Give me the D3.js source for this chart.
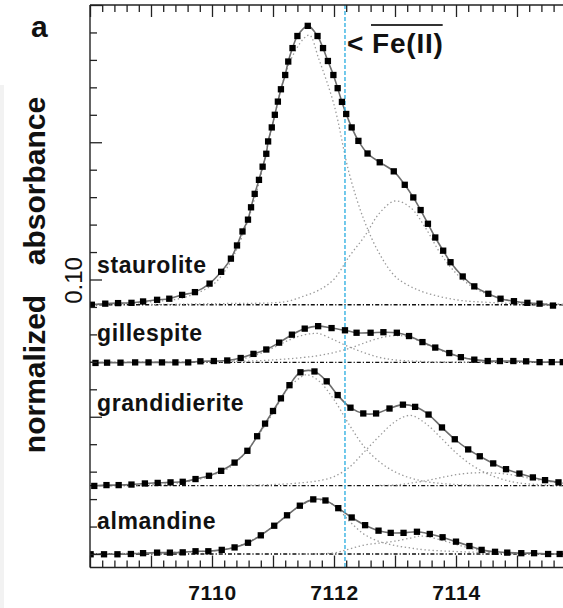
<!DOCTYPE html>
<html>
<head>
<meta charset="utf-8">
<script src="https://cdn.jsdelivr.net/npm/d3@7"></script>
<style>
  html, body { margin: 0; padding: 0; background: #fff; }
  svg { display: block; font-family: "Liberation Sans", Arial, Helvetica, sans-serif; }
</style>
</head>
<body>
<svg id="chart" width="563" height="608"></svg>
<script>
// ---------- measured spectra (energy in eV, normalized absorbance) ----------
const stauroliteE = [7108.03,7108.25,7108.46,7108.68,7108.87,7109.10,7109.30,7109.51,7109.72,7109.96,7110.15,7110.31,7110.41,7110.50,7110.59,7110.64,7110.70,7110.77,7110.83,7110.89,7110.92,7110.98,7111.03,7111.08,7111.13,7111.20,7111.25,7111.32,7111.40,7111.57,7111.73,7111.82,7111.90,7111.99,7112.06,7112.13,7112.20,7112.29,7112.40,7112.55,7112.75,7112.98,7113.16,7113.30,7113.42,7113.54,7113.66,7113.79,7113.91,7114.11,7114.30,7114.53,7114.73,7114.95,7115.17,7115.37,7115.59];
const stauroliteA = [0.0908,0.0912,0.0914,0.0915,0.0920,0.0926,0.0930,0.0944,0.0954,0.0985,0.1028,0.1076,0.1124,0.1175,0.1218,0.1263,0.1312,0.1363,0.1411,0.1458,0.1503,0.1554,0.1600,0.1648,0.1693,0.1745,0.1794,0.1843,0.1887,0.1924,0.1887,0.1843,0.1796,0.1745,0.1697,0.1647,0.1603,0.1554,0.1505,0.1459,0.1427,0.1394,0.1345,0.1299,0.1253,0.1203,0.1153,0.1105,0.1063,0.1011,0.0975,0.0948,0.0930,0.0921,0.0915,0.0912,0.0905];

const gillespiteE = [7108.09,7108.28,7108.50,7108.74,7108.96,7109.18,7109.40,7109.61,7109.81,7110.03,7110.25,7110.47,7110.68,7110.89,7111.10,7111.31,7111.52,7111.74,7111.96,7112.18,7112.37,7112.60,7112.81,7113.03,7113.23,7113.45,7113.66,7113.89,7114.08,7114.30,7114.52,7114.72,7114.94,7115.15,7115.37,7115.57,7115.75];
const gillespiteA = [0.0696,0.0697,0.0697,0.0698,0.0698,0.0698,0.0698,0.0698,0.0702,0.0703,0.0705,0.0714,0.0729,0.0745,0.0770,0.0799,0.0821,0.0830,0.0823,0.0815,0.0806,0.0806,0.0808,0.0806,0.0794,0.0772,0.0752,0.0732,0.0717,0.0708,0.0703,0.0703,0.0703,0.0702,0.0699,0.0699,0.0699];

const grandidieriteE = [7108.07,7108.27,7108.47,7108.68,7108.90,7109.11,7109.32,7109.52,7109.73,7109.95,7110.15,7110.37,7110.58,7110.74,7110.87,7111.00,7111.13,7111.27,7111.45,7111.68,7111.88,7112.06,7112.27,7112.48,7112.69,7112.91,7113.13,7113.33,7113.55,7113.77,7113.98,7114.20,7114.39,7114.61,7114.82,7115.04,7115.26,7115.46,7115.68];
const grandidieriteA = [0.0248,0.0251,0.0251,0.0253,0.0257,0.0259,0.0261,0.0263,0.0273,0.0285,0.0303,0.0333,0.0376,0.0429,0.0475,0.0521,0.0567,0.0615,0.0662,0.0665,0.0629,0.0579,0.0533,0.0512,0.0512,0.0530,0.0544,0.0536,0.0508,0.0461,0.0418,0.0381,0.0356,0.0330,0.0309,0.0293,0.0279,0.0269,0.0261];

const almandineE = [7108.01,7108.23,7108.45,7108.67,7108.87,7109.10,7109.31,7109.52,7109.73,7109.94,7110.16,7110.37,7110.59,7110.80,7111.02,7111.23,7111.44,7111.66,7111.86,7112.07,7112.29,7112.51,7112.73,7112.93,7113.14,7113.36,7113.57,7113.78,7114.00,7114.22,7114.42,7114.64,7114.84,7115.07,7115.28,7115.51,7115.70];
const almandineA = [-0.0001,-0.0001,-0.0001,0.0000,0.0003,0.0005,0.0005,0.0006,0.0010,0.0010,0.0015,0.0024,0.0041,0.0068,0.0103,0.0141,0.0176,0.0199,0.0195,0.0167,0.0133,0.0105,0.0085,0.0077,0.0077,0.0081,0.0073,0.0061,0.0045,0.0029,0.0015,0.0008,0.0005,0.0003,0.0003,0.0000,0.0000];

// ---------- vertical offsets (baseline level of each spectrum) ----------
const spectrumNames = ["staurolite", "gillespite", "grandidierite", "almandine"];
const baselineLevels = [0.0908, 0.0698, 0.0249, 0.0];

// ---------- fitted pre-edge components (height above baseline) ----------
const stauroliteMainE = [7108,7108.5,7109,7109.5,7110,7110.25,7110.5,7110.75,7111,7111.25,7111.5,7111.6,7111.75,7112,7112.25,7112.5,7112.75,7113,7113.25,7113.5,7114,7114.5,7115,7116];
const stauroliteMain  = [0.0002,0.0004,0.0011,0.0024,0.0071,0.0136,0.0253,0.0427,0.0664,0.0871,0.0969,0.0982,0.0896,0.0729,0.0478,0.0304,0.0184,0.0104,0.0067,0.0044,0.0018,0.0009,0.0004,0.0001];
const stauroliteShoulderE = [7109,7109.5,7110,7110.5,7111,7111.25,7111.5,7111.75,7112,7112.25,7112.5,7112.75,7113,7113.25,7113.5,7113.75,7114,7114.25,7114.5,7115,7115.5,7116];
const stauroliteShoulder  = [0.0001,0.0002,0.0004,0.0005,0.0007,0.0013,0.0031,0.0053,0.0093,0.0176,0.0249,0.0335,0.0378,0.0355,0.0280,0.0185,0.0115,0.0068,0.0040,0.0011,0.0003,0.0001];

const gillespiteFirstE = [7109.5,7110,7110.25,7110.5,7110.75,7111,7111.25,7111.5,7111.65,7111.75,7112,7112.25,7112.5,7112.75,7113,7113.5,7114,7115];
const gillespiteFirst  = [0.0001,0.0003,0.0005,0.0013,0.0029,0.0053,0.0080,0.0100,0.0105,0.0105,0.0082,0.0056,0.0035,0.0018,0.0009,0.0003,0.0001,0];
const gillespiteSecondE = [7110,7110.5,7111,7111.5,7111.75,7112,7112.25,7112.5,7112.75,7113,7113.25,7113.5,7113.75,7114,7114.25,7114.5,7115,7115.5];
const gillespiteSecond  = [0.0002,0.0004,0.0009,0.0018,0.0025,0.0036,0.0051,0.0071,0.0089,0.0098,0.0091,0.0067,0.0044,0.0024,0.0012,0.0005,0.0001,0];

const grandidieriteFirstE = [7108.5,7109,7109.5,7109.75,7110,7110.25,7110.5,7110.75,7111,7111.25,7111.5,7111.56,7111.75,7112,7112.25,7112.5,7112.75,7113,7113.25,7113.5,7114,7114.5];
const grandidieriteFirst  = [0.0001,0.0003,0.0011,0.0021,0.0038,0.0061,0.0108,0.0180,0.0265,0.0355,0.0401,0.0404,0.0382,0.0313,0.0222,0.0140,0.0086,0.0050,0.0028,0.0015,0.0004,0.0001];
const grandidieriteSecondE = [7110.5,7111,7111.5,7111.75,7112,7112.25,7112.5,7112.75,7113,7113.25,7113.5,7113.75,7114,7114.25,7114.5,7114.75,7115,7115.5,7116];
const grandidieriteSecond  = [0.0001,0.0004,0.0011,0.0018,0.0033,0.0067,0.0124,0.0182,0.0233,0.0256,0.0227,0.0175,0.0120,0.0076,0.0045,0.0024,0.0011,0.0002,0];
const grandidieriteThirdE = [7112.75,7113,7113.25,7113.5,7113.75,7114,7114.25,7114.5,7114.75,7115,7115.25,7115.5,7115.75,7116];
const grandidieriteThird  = [0.0001,0.0002,0.0009,0.0018,0.0029,0.0040,0.0046,0.0047,0.0044,0.0036,0.0025,0.0016,0.0009,0.0004];

const almandineFirstE = [7108,7108.5,7109,7109.5,7110,7110.25,7110.5,7110.75,7111,7111.25,7111.5,7111.7,7112,7112.25,7112.5,7112.75,7113,7113.25,7113.5,7114,7114.5,7115,7116];
const almandineFirst  = [0,0.0002,0.0004,0.0007,0.0011,0.0018,0.0035,0.0062,0.0100,0.0145,0.0182,0.0198,0.0178,0.0120,0.0071,0.0045,0.0031,0.0022,0.0015,0.0009,0.0005,0.0002,0.0001];
const almandineSecondE = [7111.5,7112,7112.25,7112.5,7112.75,7113,7113.25,7113.4,7113.5,7113.75,7114,7114.25,7114.5,7114.75,7115];
const almandineSecond  = [0,0.0004,0.0018,0.0033,0.0040,0.0047,0.0058,0.0065,0.0064,0.0051,0.0035,0.0020,0.0008,0.0003,0.0001];

// ---------- axis ticks and labels ----------
const xTickLabels = [7110, 7112, 7114];
const yTickLabels = [0.10];
const feLineEnergy = 7112.18;   // mean Fe(II) pre-edge centroid marker
const panelLetter = "a";
const yTitleWords = ["absorbance", "normalized"];

// ---------- assemble ----------
const zip = (E, A) => E.map((e, i) => ({ e, a: A[i] }));
const spectra = [
  { data: zip(stauroliteE, stauroliteA), comps: [zip(stauroliteMainE, stauroliteMain), zip(stauroliteShoulderE, stauroliteShoulder)] },
  { data: zip(gillespiteE, gillespiteA), comps: [zip(gillespiteFirstE, gillespiteFirst), zip(gillespiteSecondE, gillespiteSecond)] },
  { data: zip(grandidieriteE, grandidieriteA), comps: [zip(grandidieriteFirstE, grandidieriteFirst), zip(grandidieriteSecondE, grandidieriteSecond), zip(grandidieriteThirdE, grandidieriteThird)] },
  { data: zip(almandineE, almandineA), comps: [zip(almandineFirstE, almandineFirst), zip(almandineSecondE, almandineSecond)] }
].map((s, i) => ({ ...s, name: spectrumNames[i], base: baselineLevels[i] }));

const svg = d3.select("#chart");
const W = 563, H = 608;
const plotTop = 5, plotBottom = 567.5;

const x = d3.scaleLinear().domain([7108, 7116]).range([90, 578]);
const y = d3.scaleLinear().domain([0, 0.2]).range([554, 5]);

// faint scan edge on the far left
svg.append("rect").attr("x", 0).attr("y", 85).attr("width", 4).attr("height", H - 85).attr("fill", "#f2f2f2");

svg.append("defs").append("clipPath").attr("id", "plotClip")
  .append("rect").attr("x", x.range()[0]).attr("y", plotTop)
  .attr("width", x.range()[1] - x.range()[0]).attr("height", plotBottom - plotTop);

const plot = svg.append("g").attr("clip-path", "url(#plotClip)");

// baselines (dash-dot)
plot.selectAll("line.baseline").data(spectra).join("line")
  .attr("class", "baseline")
  .attr("x1", x(7108)).attr("x2", x(7116))
  .attr("y1", d => y(d.base)).attr("y2", d => y(d.base))
  .attr("stroke", "#111").attr("stroke-width", 1.3)
  .attr("stroke-dasharray", "4,2,1.2,2");

// component peaks (dotted grey)
const compLine = d3.line().curve(d3.curveCatmullRom.alpha(0.5));
spectra.forEach(s => {
  plot.selectAll(null).data(s.comps).join("path")
    .attr("fill", "none")
    .attr("stroke", "#999").attr("stroke-width", 1.3)
    .attr("stroke-dasharray", "1.4,2.6")
    .attr("d", c => compLine(c.map(p => [x(p.e), y(s.base + p.a)])));
});

// overall fit through the data (solid grey)
const fitLine = d3.line().x(p => x(p.e)).y(p => y(p.a)).curve(d3.curveCatmullRom.alpha(0.5));
plot.selectAll("path.fit").data(spectra).join("path")
  .attr("class", "fit")
  .attr("fill", "none").attr("stroke", "#6e6e6e").attr("stroke-width", 1.6)
  .attr("d", s => fitLine(s.data));

// Fe(II) marker line
plot.append("line")
  .attr("x1", x(feLineEnergy)).attr("x2", x(feLineEnergy))
  .attr("y1", plotTop).attr("y2", plotBottom)
  .attr("stroke", "#35b2e2").attr("stroke-width", 1.4).attr("stroke-dasharray", "4,2");

// data squares
const sq = 6.3;
spectra.forEach(s => {
  plot.selectAll(null).data(s.data).join("rect")
    .attr("x", p => x(p.e) - sq / 2).attr("y", p => y(p.a) - sq / 2)
    .attr("width", sq).attr("height", sq).attr("fill", "#000");
});

// ---------- axes ----------
const minorX = d3.range(0, 41).map(i => +(7108 + i * 0.2).toFixed(1)).filter(v => !Number.isInteger(v));
const majorX = d3.range(7108, 7117);
const minorY = d3.range(0, 21).filter(i => i % 5 !== 0).map(i => +(i * 0.01).toFixed(2));
const majorY = [0, 0.05, 0.10, 0.15, 0.20];

function tidy(g) {
  g.select(".domain").remove();
  g.selectAll(".tick line").attr("stroke", "#222").attr("stroke-width", 1.3);
}

svg.append("g").attr("transform", `translate(0,${plotBottom})`)
  .call(d3.axisBottom(x).tickValues(minorX).tickSize(-7).tickFormat(""))
  .call(tidy);
svg.append("g").attr("transform", `translate(0,${plotBottom})`)
  .call(d3.axisBottom(x).tickValues(majorX).tickSize(-12).tickPadding(18)
    .tickFormat(d => xTickLabels.includes(d) ? String(d) : ""))
  .call(tidy)
  .call(g => g.selectAll("text")
    .attr("font-family", '"Liberation Sans", Arial, sans-serif')
    .attr("font-size", 21).attr("font-weight", "bold")
    .attr("letter-spacing", 0.8).attr("fill", "#111"));

svg.append("g").attr("transform", `translate(0,${plotTop})`)
  .call(d3.axisTop(x).tickValues(minorX).tickSize(-7).tickFormat(""))
  .call(tidy);
svg.append("g").attr("transform", `translate(0,${plotTop})`)
  .call(d3.axisTop(x).tickValues(majorX).tickSize(-12).tickFormat(""))
  .call(tidy);

svg.append("g").attr("transform", `translate(${x.range()[0]},0)`)
  .call(d3.axisLeft(y).tickValues(minorY).tickSize(-7).tickFormat(""))
  .call(tidy);
svg.append("g").attr("transform", `translate(${x.range()[0]},0)`)
  .call(d3.axisLeft(y).tickValues(majorY).tickSize(-12).tickFormat(""))
  .call(tidy);

// frame (left, top, bottom)
const frame = svg.append("g").attr("stroke", "#222").attr("stroke-width", 1.4);
frame.append("line").attr("x1", x.range()[0]).attr("x2", x.range()[0]).attr("y1", plotTop).attr("y2", plotBottom);
frame.append("line").attr("x1", x.range()[0]).attr("x2", W).attr("y1", plotTop).attr("y2", plotTop);
frame.append("line").attr("x1", x.range()[0]).attr("x2", W).attr("y1", plotBottom).attr("y2", plotBottom);

// rotated scale label
svg.selectAll("text.ylab").data(yTickLabels).join("text")
  .attr("class", "ylab")
  .attr("transform", d => `translate(82,${y(d) + 1}) rotate(-90)`)
  .attr("text-anchor", "middle")
  .attr("font-size", 24).attr("fill", "#111")
  .text(d => d3.format(".2f")(d));

// axis title
const titleCenters = [181, 374];
svg.selectAll("text.ytitle").data(yTitleWords).join("text")
  .attr("class", "ytitle")
  .attr("transform", (d, i) => `translate(45,${titleCenters[i]}) rotate(-90)`)
  .attr("text-anchor", "middle")
  .attr("font-size", 30).attr("font-weight", "bold").attr("fill", "#111")
  .text(d => d);

// panel letter
svg.append("text").attr("x", 31).attr("y", 37)
  .attr("font-size", 30).attr("font-weight", "bold").attr("fill", "#111")
  .text(panelLetter);

// spectrum names
const nameBaselines = [273, 341, 411, 529];
svg.selectAll("text.name").data(spectra).join("text")
  .attr("class", "name")
  .attr("x", 97).attr("y", (d, i) => nameBaselines[i])
  .attr("font-size", 23).attr("font-weight", "bold").attr("letter-spacing", 0.6)
  .attr("fill", "#111")
  .text(d => d.name);

// Fe(II) annotation with overbar
svg.append("text").attr("x", 347).attr("y", 53)
  .attr("font-size", 28).attr("font-weight", "bold").attr("fill", "#111")
  .text("<");
const fe = svg.append("text").attr("x", 372).attr("y", 53)
  .attr("font-size", 28).attr("font-weight", "bold").attr("letter-spacing", 0.8).attr("fill", "#111")
  .text("Fe(II)");
const feBox = fe.node().getBBox();
svg.append("line")
  .attr("x1", feBox.x - 1).attr("x2", feBox.x + feBox.width - 1)
  .attr("y1", 25).attr("y2", 25)
  .attr("stroke", "#333").attr("stroke-width", 2.2);
</script>
</body>
</html>
